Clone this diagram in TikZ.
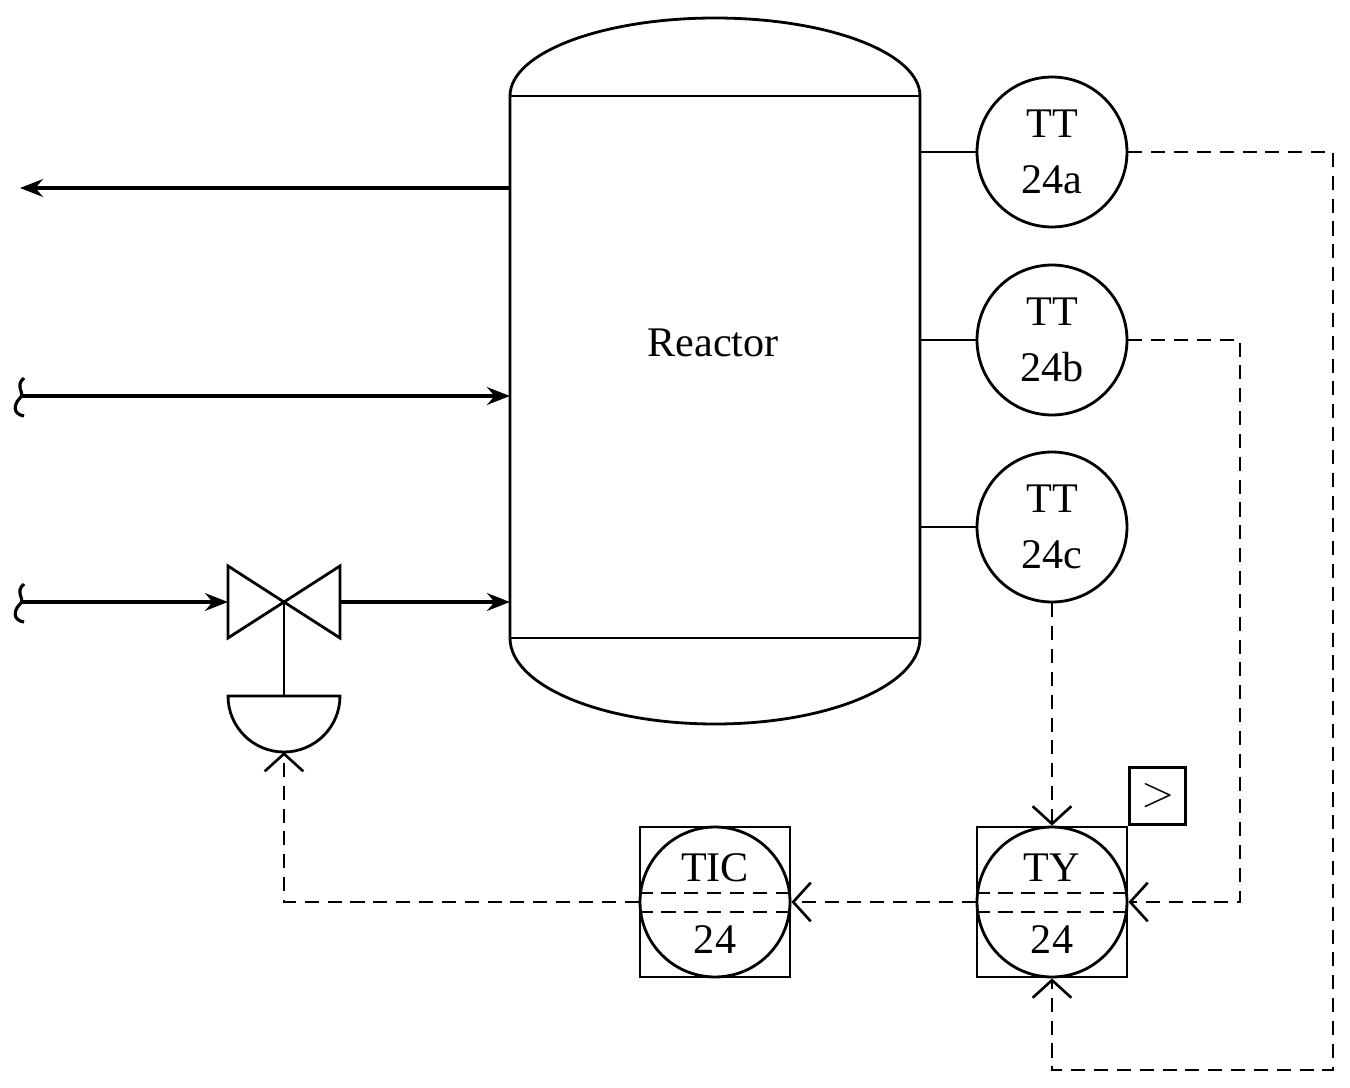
\documentclass[tikz,border=0pt]{standalone}
\usepackage{fontspec}
\setmainfont{Liberation Serif}
\usetikzlibrary{positioning,arrows.meta}
\tikzset{
  pipe/.style={line width=2.6pt,-{Stealth[length=13pt,width=10pt]}},
  sig/.style={dashed,dash pattern=on 8pt off 5pt,line width=1.5pt,-{Straight Barb[length=10pt,width=22pt,line width=1.5pt]}},
  inst/.style={circle,draw,line width=1.6pt,minimum size=3cm,inner sep=0pt},
  shared/.style={draw,line width=1.6pt,minimum size=3cm,inner sep=0pt},
  lbl/.style={font=\fontsize{24}{32}\selectfont,align=center},
}
\begin{document}
\begin{tikzpicture}[x=0.02cm,y=-0.02cm,line width=1.6pt]
\useasboundingbox (0,0) rectangle (1350,1088);
% reactor
\draw (510,96) arc[start angle=180,end angle=360,x radius=205,y radius=78]
  -- (920,638) arc[start angle=0,end angle=180,x radius=205,y radius=86] -- cycle;
\draw (510,96) -- (920,96) (510,638) -- (920,638);
\node[lbl] (reactor) at (713,343) {Reactor};
\coordinate (out) at (510,188);
\coordinate (in1) at (510,396);
\coordinate (in2) at (510,602);
% process lines
\coordinate (outend) at (20,188);
\draw[pipe] (out) -- (outend);
\coordinate (feed1) at (20,396);
\coordinate (feed2) at (20,602);
\draw[pipe] (feed1) -- (in1);
\foreach \f in {feed1,feed2}
  \draw[line width=1.8pt] ([shift={(4,-18)}]\f) .. controls ([shift={(-6,-10)}]\f) and ([shift={(6,-2)}]\f) .. ([shift={(0,2)}]\f)
     .. controls ([shift={(-6,8)}]\f) and ([shift={(-8,18)}]\f) .. ([shift={(4,20)}]\f);
% valve
\coordinate (vin) at (228,602);
\coordinate (vout) at (340,602);
\coordinate (vc) at (284,602);
\draw (228,566) -- (340,638) -- (340,566) -- (228,638) -- cycle;
\draw[pipe] (feed2) -- (vin);
\draw[pipe] (vout) -- (in2);
\draw (vc) -- (284,696);
\draw (228,696) -- (340,696) arc[start angle=0,end angle=180,x radius=56,y radius=56] -- cycle;
\coordinate (act) at (284,752);
% transmitters
\foreach \n/\y/\t in {a/152/24a,b/340/24b,c/527/24c}{
  \node[inst,lbl] (tt\n) at (1052,\y) {TT\\\t};
  \draw (920,\y) -- (tt\n.west);
}
% controller and relay
\node[shared] (ticbox) at (715,902) {};
\node[inst] (tic) at (715,902) {};
\node[shared] (tybox) at (1052,902) {};
\node[inst] (ty) at (1052,902) {};
\node[draw,minimum width=56*0.02cm,minimum height=57*0.02cm,anchor=south west,font=\fontsize{24}{28}\selectfont] (sel) at (tybox.north east) {$>$};
\foreach \c/\a/\x in {tic/TIC/715,ty/TY/1052}{
  \node[lbl] at (\x,868) {\a};
  \node[lbl] at (\x,940) {24};
  \draw[dashed,dash pattern=on 8pt off 5pt] ([yshift=9*0.02cm]\c.west) -- ([yshift=9*0.02cm]\c.east);
  \draw[dashed,dash pattern=on 8pt off 5pt] ([yshift=-10*0.02cm]\c.west) -- ([yshift=-10*0.02cm]\c.east);
}
% signals
\draw[sig] (tta.east) -- (1333,152) -- (1333,1070) -- (1052,1070) -- (ty.south);
\draw[sig] (ttb.east) -- (1240,340) -- (1240,902) -- (ty.east);
\draw[sig] (ttc.south) -- (ty.north);
\draw[sig] (ty.west) -- (tic.east);
\draw[sig] (tic.west) -- (284,902) -- (act);
\end{tikzpicture}
\end{document}
